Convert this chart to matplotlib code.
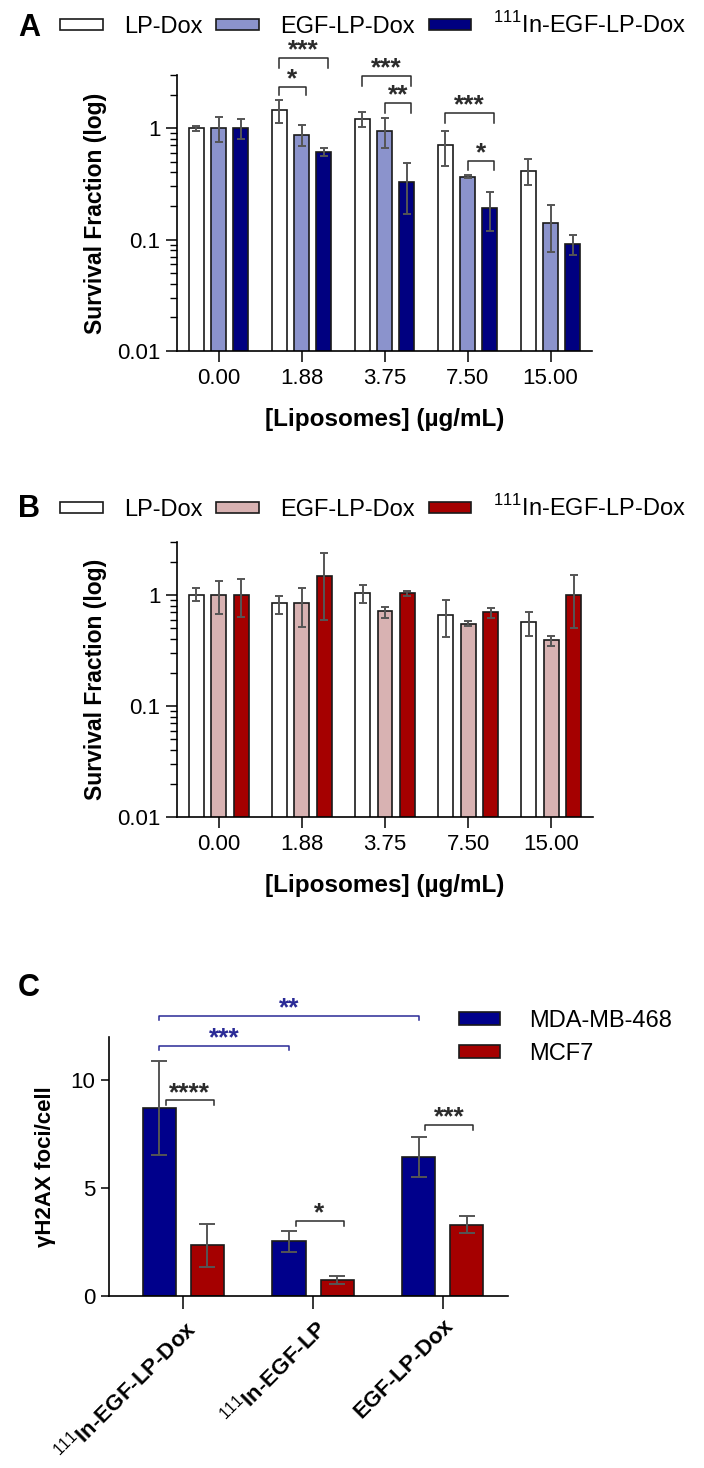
import numpy as np
import matplotlib
matplotlib.use("Agg")
import matplotlib.pyplot as plt
from matplotlib.patches import Patch
from matplotlib.ticker import LogLocator, NullFormatter, FixedLocator, FixedFormatter

plt.rcParams['font.family'] = ['Liberation Sans', 'DejaVu Sans']
plt.rcParams['mathtext.fontset'] = 'custom'
plt.rcParams['mathtext.rm'] = 'Liberation Sans'

# ---------------- data ----------------
conc_labels = ['0.00', '1.88', '3.75', '7.50', '15.00']
series_names = ['LP-Dox', 'EGF-LP-Dox', r'$^{111}$In-EGF-LP-Dox']

# panel A (MDA-MB-468), survival fraction with error bar limits
a_lp = [1.00, 1.45, 1.21, 0.71, 0.41]
a_lp_lo = [0.95, 1.11, 1.02, 0.46, 0.31]
a_lp_hi = [1.05, 1.79, 1.40, 0.94, 0.53]
a_egf = [1.00, 0.87, 0.95, 0.367, 0.141]
a_egf_lo = [0.75, 0.69, 0.67, 0.357, 0.078]
a_egf_hi = [1.26, 1.07, 1.23, 0.377, 0.206]
a_in = [1.00, 0.61, 0.33, 0.194, 0.092]
a_in_lo = [0.80, 0.56, 0.168, 0.12, 0.072]
a_in_hi = [1.20, 0.66, 0.49, 0.265, 0.111]

# panel B (MCF7)
b_lp = [1.00, 0.84, 1.04, 0.66, 0.57]
b_lp_lo = [0.88, 0.68, 0.84, 0.42, 0.43]
b_lp_hi = [1.15, 0.97, 1.23, 0.90, 0.70]
b_egf = [1.00, 0.84, 0.72, 0.55, 0.39]
b_egf_lo = [0.68, 0.51, 0.62, 0.52, 0.35]
b_egf_hi = [1.34, 1.15, 0.785, 0.58, 0.43]
b_in = [1.00, 1.47, 1.04, 0.70, 1.00]
b_in_lo = [0.63, 0.59, 0.97, 0.62, 0.50]
b_in_hi = [1.39, 2.38, 1.09, 0.76, 1.52]

# panel C, gammaH2AX foci per cell
c_groups = [r'$^{111}$In-EGF-LP-Dox', r'$^{111}$In-EGF-LP', 'EGF-LP-Dox']
c_cells = ['MDA-MB-468', 'MCF7']
c_mda = [8.73, 2.54, 6.43]
c_mda_err = [2.18, 0.49, 0.92]
c_mcf = [2.34, 0.74, 3.30]
c_mcf_err = [1.00, 0.18, 0.39]

# significance: (group, bar i, bar j, line level, tip level, stars)
sig_a = [(1, 0, 2, 4.27, 3.5, '***'), (1, 0, 1, 2.34, 2.0, '*'),
         (2, 0, 2, 2.94, 2.39, '***'), (2, 1, 2, 1.68, 1.37, '**'),
         (3, 0, 2, 1.37, 1.11, '***'), (3, 1, 2, 0.51, 0.42, '*')]
# panel C: (group i, bar i, group j, bar j, line, tip, stars, colour)
sig_c = [(0, 0, 0, 1, 9.07, 8.84, '****', '#2b2b2b'),
         (1, 0, 1, 1, 3.49, 3.26, '*', '#2b2b2b'),
         (2, 0, 2, 1, 7.92, 7.70, '***', '#2b2b2b'),
         (0, 0, 1, 0, 11.58, 11.40, '***', '#2a2a96'),
         (0, 0, 2, 0, 12.98, 12.79, '**', '#2a2a96')]

W, H = 704, 1468
def box(l, t, r, b):
    return [l / W, 1 - b / H, (r - l) / W, (b - t) / H]

fig = plt.figure(figsize=(W / 100, H / 100), dpi=100)

ecol = '#555555'
edge = '#1a1a1a'

def bracket(ax, x1, x2, y, ytip, label, color):
    ax.plot([x1, x1, x2, x2], [ytip, y, y, ytip], color=color, lw=1.1, clip_on=False, zorder=4)
    ax.annotate(label, xy=((x1 + x2) / 2, y), xytext=(0, 0.3), textcoords='offset points',
                ha='center', va='baseline', fontsize=19, fontweight='bold', color=color,
                annotation_clip=False)

def survival_panel(rect, vals, colors, letter, letter_y, leg_y, sig):
    ax = fig.add_axes(rect)
    ax.set_yscale('log')
    x = np.arange(len(conc_labels))
    offs = [-0.27, 0.0, 0.27]
    for k, (v, lo, hi) in enumerate(vals):
        v = np.array(v); lo = np.array(lo); hi = np.array(hi)
        ax.bar(x + offs[k], v, width=0.18, color=colors[k], edgecolor=edge, linewidth=1.2,
               label=series_names[k], zorder=2)
        ax.errorbar(x + offs[k], v, yerr=[v - lo, hi - v], fmt='none', ecolor=ecol,
                    elinewidth=1.4, capsize=3.2, capthick=1.4, zorder=3)
    ax.set_ylim(0.01, 3)
    ax.set_xlim(-0.5, 4.5)
    ax.yaxis.set_major_locator(FixedLocator([0.01, 0.1, 1]))
    ax.yaxis.set_major_formatter(FixedFormatter(['0.01', '0.1', '1']))
    ax.yaxis.set_minor_locator(LogLocator(base=10, subs=np.arange(2, 10)))
    ax.yaxis.set_minor_formatter(NullFormatter())
    ax.set_xticks(x)
    ax.set_xticklabels(conc_labels)
    ax.tick_params(axis='both', which='major', labelsize=16, width=1.1, length=8, direction='out', pad=4)
    ax.tick_params(axis='y', which='minor', width=1.0, length=5)
    for s in ['top', 'right']:
        ax.spines[s].set_visible(False)
    for s in ['left', 'bottom']:
        ax.spines[s].set_linewidth(1.2)
    ax.set_ylabel('Survival Fraction (log)', fontsize=16.5, fontweight='bold', labelpad=7)
    ax.set_xlabel('[Liposomes] (µg/mL)', fontsize=17.5, fontweight='bold', labelpad=14)
    for g, i, j, y, yt, lab in sig:
        bracket(ax, g + offs[i], g + offs[j] + 0.05, y, yt, lab, '#2b2b2b')
    handles = [Patch(facecolor=c, edgecolor=edge, linewidth=1.2) for c in colors]
    fig.legend(handles, series_names, loc='center left', bbox_to_anchor=(60 / W, 1 - leg_y / H),
               ncol=3, frameon=False, fontsize=17, handlelength=1.8, handleheight=0.35,
               handletextpad=0.9, columnspacing=0.6, borderpad=0, borderaxespad=0)
    fig.text(18 / W, 1 - letter_y / H, letter, fontsize=22, fontweight='bold', va='center')
    return ax

survival_panel(box(177, 75, 592, 351),
               [(a_lp, a_lp_lo, a_lp_hi), (a_egf, a_egf_lo, a_egf_hi), (a_in, a_in_lo, a_in_hi)],
               ['white', '#8b93cc', '#000080'], 'A', 28, 25, sig_a)
survival_panel(box(177, 542, 593, 817),
               [(b_lp, b_lp_lo, b_lp_hi), (b_egf, b_egf_lo, b_egf_hi), (b_in, b_in_lo, b_in_hi)],
               ['white', '#d8b2b2', '#a50000'], 'B', 509, 508, [])

# ---------------- panel C ----------------
axc = fig.add_axes(box(109, 1037, 508, 1296))
xc = np.arange(len(c_groups))
c_offs = [-0.185, 0.185]
c_colors = ['#00008b', '#a50000']
for k, (v, e) in enumerate([(c_mda, c_mda_err), (c_mcf, c_mcf_err)]):
    axc.bar(xc + c_offs[k], v, width=0.255, color=c_colors[k], edgecolor=edge, linewidth=1.2,
            label=c_cells[k], zorder=2)
    axc.errorbar(xc + c_offs[k], v, yerr=e, fmt='none', ecolor=ecol, elinewidth=1.4,
                 capsize=6, capthick=1.4, zorder=3)
axc.set_ylim(0, 12)
axc.set_xlim(-0.572, 2.502)
axc.set_yticks([0, 5, 10])
axc.set_xticks(xc)
axc.set_xticklabels(c_groups, rotation=45, ha='right', va='top', rotation_mode='anchor',
                    fontsize=16, fontweight='bold')
axc.tick_params(axis='y', labelsize=16, width=1.1, length=6, pad=4)
axc.tick_params(axis='x', width=1.1, length=9, pad=5)
for s in ['top', 'right']:
    axc.spines[s].set_visible(False)
for s in ['left', 'bottom']:
    axc.spines[s].set_linewidth(1.2)
axc.set_ylabel('γH2AX foci/cell', fontsize=16, fontweight='bold', labelpad=10)
for gi, bi, gj, bj, y, yt, lab, col in sig_c:
    x1 = gi + c_offs[bi] + (0.05 if gi == gj else 0.0)
    x2 = gj + c_offs[bj] + (0.05 if gi == gj else 0.0)
    bracket(axc, x1, x2, y, yt, lab, col)
handles = [Patch(facecolor=c, edgecolor=edge, linewidth=1.2) for c in c_colors]
fig.legend(handles, c_cells, loc='upper left', bbox_to_anchor=(459 / W, 1 - 1010 / H),
           frameon=False, fontsize=17, handlelength=1.75, handleheight=0.5,
           handletextpad=1.2, labelspacing=0.45, borderpad=0, borderaxespad=0)
fig.text(18 / W, 1 - 988 / H, 'C', fontsize=22, fontweight='bold', va='center')

fig.savefig('out.png', dpi=100)
